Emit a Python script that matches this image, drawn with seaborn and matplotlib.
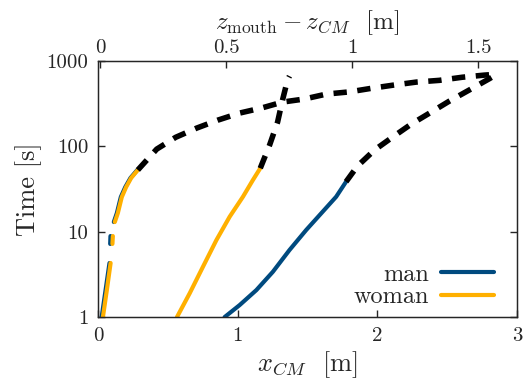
import numpy as np
import pandas as pd
import matplotlib
matplotlib.use('Agg')
import matplotlib.pyplot as plt
import seaborn as sns
from matplotlib.lines import Line2D
from matplotlib.ticker import FixedLocator, FixedFormatter, NullLocator

# x_CM [m] and time [s]
# left curves (both people), segments with gaps
woman_left_x = [[0.036, 0.064, 0.091], [0.104, 0.107], [0.121, 0.143, 0.171, 0.202, 0.238, 0.286]]
woman_left_t = [[1.0, 2.07, 4.3], [7.2, 8.9], [13.0, 16.6, 25.5, 33.4, 42.7, 53.0]]
man_left_x = [[0.027, 0.055, 0.083], [0.088, 0.090], [0.114, 0.136, 0.164, 0.196, 0.233, 0.282]]
man_left_t = [[1.0, 2.07, 4.3], [7.2, 8.9], [13.0, 16.6, 25.5, 33.4, 42.7, 53.0]]

woman_x = [0.566, 0.657, 0.752, 0.848, 0.943, 1.038, 1.109, 1.162]
woman_t = [1.0, 1.90, 3.89, 7.98, 15.0, 25.7, 40.3, 55.5]
man_x = [0.907, 1.014, 1.134, 1.252, 1.371, 1.491, 1.609, 1.705, 1.776]
man_t = [1.0, 1.38, 2.07, 3.39, 6.1, 10.5, 17.2, 25.7, 38.6]

# dashed continuations
dash_long_x = [0.286, 0.421, 0.557, 0.707, 0.857, 1.014, 1.171, 1.321, 1.479, 1.636,
               1.80, 1.964, 2.121, 2.279, 2.443, 2.607, 2.764, 2.871]
dash_long_t = [53, 93, 128, 164, 203, 246, 282, 331, 360, 411,
               436, 482, 525, 568, 595, 647, 685, 705]
dash_steep_x = [1.162, 1.229, 1.286, 1.321, 1.357, 1.371]
dash_steep_t = [55.5, 104, 193, 348, 600, 667]
dash_right_x = [1.776, 1.857, 1.979, 2.107, 2.243, 2.386, 2.514, 2.657, 2.80, 2.871]
dash_right_t = [38.6, 58.7, 90.6, 128, 183, 253, 339, 458, 620, 727]

bottom_ticks = [0, 1, 2, 3]
top_ticks = [0, 0.5, 1, 1.5]
y_ticks = [1, 10, 100, 1000]

blue = '#004a7f'
orange = '#ffb000'

sns.set_style('ticks')
plt.rcParams['font.family'] = 'serif'
plt.rcParams['font.serif'] = ['cmr10']
plt.rcParams['mathtext.fontset'] = 'cm'
plt.rcParams['axes.formatter.use_mathtext'] = True
plt.rcParams['axes.unicode_minus'] = False

fig = plt.figure(figsize=(5.32, 3.82), dpi=100)
ax = fig.add_axes([0.184, 0.170, 0.788, 0.670])


def seg_frame(xs, ts):
    rows = []
    for i, (xx, tt) in enumerate(zip(xs, ts)):
        for a, b in zip(xx, tt):
            rows.append((a, b, i))
    return pd.DataFrame(rows, columns=['x', 't', 'seg'])


lw = 3.0
sns.lineplot(data=seg_frame(man_left_x, man_left_t), x='x', y='t', units='seg',
             estimator=None, sort=False, color=blue, lw=lw, ax=ax)
sns.lineplot(data=seg_frame(woman_left_x, woman_left_t), x='x', y='t', units='seg',
             estimator=None, sort=False, color=orange, lw=lw, ax=ax)
sns.lineplot(x=man_x, y=man_t, sort=False, color=blue, lw=lw, ax=ax)
sns.lineplot(x=woman_x, y=woman_t, sort=False, color=orange, lw=lw, ax=ax)

for xx, tt in [(dash_long_x, dash_long_t), (dash_steep_x, dash_steep_t), (dash_right_x, dash_right_t)]:
    sns.lineplot(x=xx, y=tt, sort=False, color='black', lw=4.0, ax=ax,
                 dashes=False, linestyle=(0, (2.4, 1.9)))

ax.set_yscale('log')
ax.set_xlim(0, 3)
ax.set_ylim(1, 1000)
ax.xaxis.set_major_locator(FixedLocator(bottom_ticks))
ax.xaxis.set_major_formatter(FixedFormatter([str(v) for v in bottom_ticks]))
ax.yaxis.set_major_locator(FixedLocator(y_ticks))
ax.yaxis.set_major_formatter(FixedFormatter([str(v) for v in y_ticks]))
ax.yaxis.set_minor_locator(NullLocator())
ax.tick_params(direction='in', length=5, width=1, labelsize=15, right=True, pad=7)
ax.set_xlabel(r'$x_{CM}$  [m]', fontsize=19, labelpad=3)
ax.set_ylabel('Time [s]', fontsize=19, labelpad=3)
for s in ax.spines.values():
    s.set_linewidth(1.0)

top = ax.twiny()
top.set_xlim(-0.008, 1.655)
top.xaxis.set_major_locator(FixedLocator(top_ticks))
top.xaxis.set_major_formatter(FixedFormatter(['0', '0.5', '1', '1.5']))
top.tick_params(direction='in', length=5, width=1, labelsize=15, pad=3)
top.set_xlabel(r'$z_{\rm mouth} - z_{CM}$  [m]', fontsize=18, labelpad=7)

handles = [Line2D([], [], color=blue, lw=3.0), Line2D([], [], color=orange, lw=3.0)]
ax.legend(handles, ['man', 'woman'], loc='lower right', bbox_to_anchor=(0.969, -0.004),
          frameon=False, markerfirst=False, fontsize=17.5, handlelength=2.2,
          labelspacing=0.02, borderaxespad=0.0, handletextpad=0.5)

fig.savefig('out.png', dpi=100)
